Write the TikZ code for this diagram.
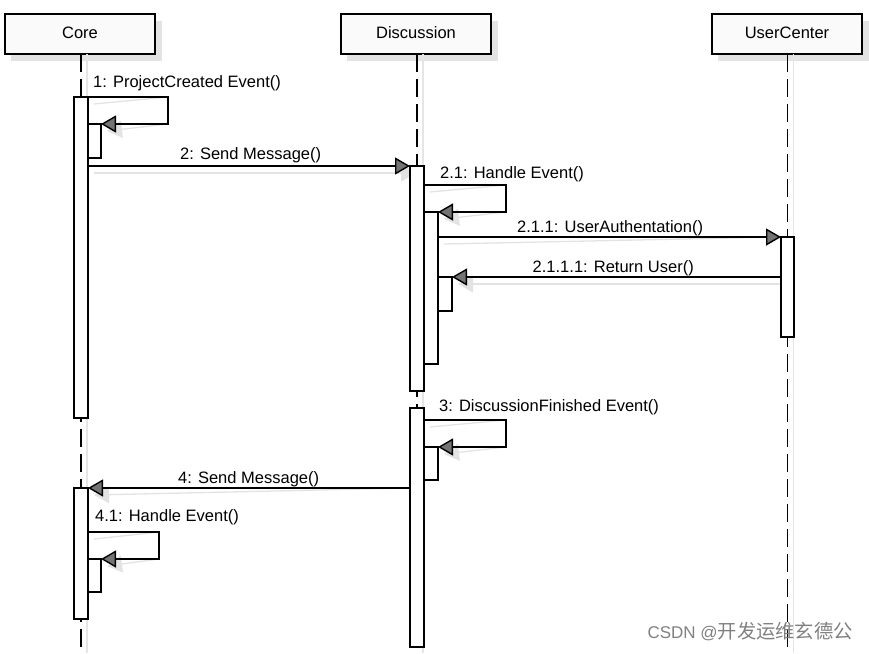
\documentclass[tikz,border=0pt]{standalone}
\usepackage{fontspec}
\setmainfont{Liberation Sans}
\newfontfamily\cjk{Noto Sans CJK SC}
\usetikzlibrary{arrows.meta}
\tikzset{
  part/.style={draw, line width=2.6pt, fill=gray!4, minimum width=150pt, minimum height=40pt,
    inner sep=0pt, outer sep=0pt, text height=12pt, text depth=4pt, font=\fontsize{16.5}{19}\selectfont},
  partshadow/.style={fill=gray!22, draw=none},
  life/.style={line width=1.3pt, dash pattern=on 18pt off 7pt},
  lifeshadow/.style={gray!20, line width=1.2pt},
  act/.style={draw=black, fill=white, line width=1.4pt, inner sep=0pt, outer sep=0pt, minimum width=14pt},
  msg/.style={line width=1.4pt, -{Triangle[length=15pt,width=17pt,fill=black!55]}},
  msgshadow/.style={gray!22, line width=1.3pt, -{Triangle[length=15pt,width=17pt,fill=gray!22]}},
  lbl/.style={anchor=base west, inner sep=0pt, font=\fontsize{16.5}{19}\selectfont},
}
\begin{document}
\begin{tikzpicture}[x=1pt,y=-1pt]
\useasboundingbox (0,0) rectangle (869,653);
% participant shadows
\fill[partshadow] (11,21) rectangle (162,61);
\fill[partshadow] (347,21) rectangle (498,61);
\fill[partshadow] (718,21) rectangle (869,61);
% participants
\node[part] (core) at (80,34) {Core};
\node[part] (disc) at (416,34) {Discussion};
\node[part] (uc) at (787,34) {UserCenter};
% lifeline ends
\coordinate (coreend) at (81,653);
\coordinate (discend) at (417,653);
\coordinate (ucend) at (787.5,653);
% lifeline shadows
\draw[lifeshadow] ([xshift=6pt]core.south -| coreend) -- ([xshift=6pt]coreend);
\draw[lifeshadow] ([xshift=6pt]disc.south -| discend) -- ([xshift=6pt]discend);
\draw[lifeshadow] ([xshift=6pt]uc.south -| ucend) -- ([xshift=6pt]ucend);
% lifelines
\draw[life] (core.south -| coreend) -- (coreend);
\draw[life] (disc.south -| discend) -- (discend);
\draw[life] (uc.south -| ucend) -- (ucend);
% message coordinates
\coordinate (m1r) at (168,97);
\coordinate (m1b) at (168,124);
\coordinate (m21r) at (506,185);
\coordinate (m21b) at (506,212);
\coordinate (m211) at (781,237);
\coordinate (m3r) at (506,420);
\coordinate (m3b) at (506,447);
\coordinate (m4s) at (410,488);
\coordinate (m41r) at (159,532);
\coordinate (m41b) at (159,559);
% message shadows
\begin{scope}[shift={(6,7)}]
\draw[msgshadow] (88,97) -- (m1r) -- (m1b) -- (101,124);
\draw[msgshadow] (88,166) -- (410,166);
\draw[msgshadow] (424,185) -- (m21r) -- (m21b) -- (438,212);
\draw[msgshadow] (438,237) -- (m211);
\draw[msgshadow] (781,277) -- (452,277);
\draw[msgshadow] (424,420) -- (m3r) -- (m3b) -- (438,447);
\draw[msgshadow] (m4s) -- (88,488);
\draw[msgshadow] (88,532) -- (m41r) -- (m41b) -- (101,559);
\end{scope}
% activations
\node[act, minimum height=321pt, anchor=north] (ca1) at (81,97) {};
\node[act, minimum width=13pt, minimum height=34pt, anchor=north west] (ca1n) at (88,124) {};
\node[act, minimum height=225pt, anchor=north] (da1) at (417,166) {};
\node[act, minimum height=152pt, anchor=north west] (da1n) at (424,212) {};
\node[act, minimum height=34pt, anchor=north west] (da1nn) at (438,277) {};
\node[act, minimum width=13pt, minimum height=100pt, anchor=north] (ua1) at (787.5,237) {};
\node[act, minimum height=239pt, anchor=north] (da2) at (417,408) {};
\node[act, minimum height=33pt, anchor=north west] (da2n) at (424,447) {};
\node[act, minimum height=131pt, anchor=north] (ca2) at (81,488) {};
\node[act, minimum width=13pt, minimum height=33pt, anchor=north west] (ca2n) at (88,559) {};
% messages
\draw[msg] (ca1.north east) -- (m1r) -- (m1b) -- (ca1n.north east);
\draw[msg] (ca1.east |- da1.north) -- (da1.north west);
\draw[msg] (da1.east |- m21r) -- (m21r) -- (m21b) -- (da1n.north east);
\draw[msg] (da1n.east |- ua1.north) -- (ua1.north west);
\draw[msg] (ua1.west |- da1nn.north) -- (da1nn.north east);
\draw[msg] (da2.east |- m3r) -- (m3r) -- (m3b) -- (da2n.north east);
\draw[msg] (da2.west |- ca2.north) -- (ca2.north east);
\draw[msg] (ca2.east |- m41r) -- (m41r) -- (m41b) -- (ca2n.north east);
% labels
\node[lbl] (l1) at (93,87) {1: ProjectCreated Event()};
\node[lbl] (l2) at (180,159) {2: Send Message()};
\node[lbl] (l21) at (440,178) {2.1: Handle Event()};
\node[lbl] (l211) at (517,232) {2.1.1: UserAuthentation()};
\node[lbl, anchor=base east] (l2111) at (694,272) {2.1.1.1: Return User()};
\node[lbl] (l3) at (439,411) {3: DiscussionFinished Event()};
\node[lbl] (l4) at (178,483) {4: Send Message()};
\node[lbl] (l41) at (95,521) {4.1: Handle Event()};
% watermark
\node[anchor=base east, inner sep=0pt, text=black!50] (wm) at (853,638)
  {{\fontsize{17}{19}\selectfont CSDN @}{\cjk\fontsize{19.3}{21}\selectfont 开发运维玄德公}};
\end{tikzpicture}
\end{document}
